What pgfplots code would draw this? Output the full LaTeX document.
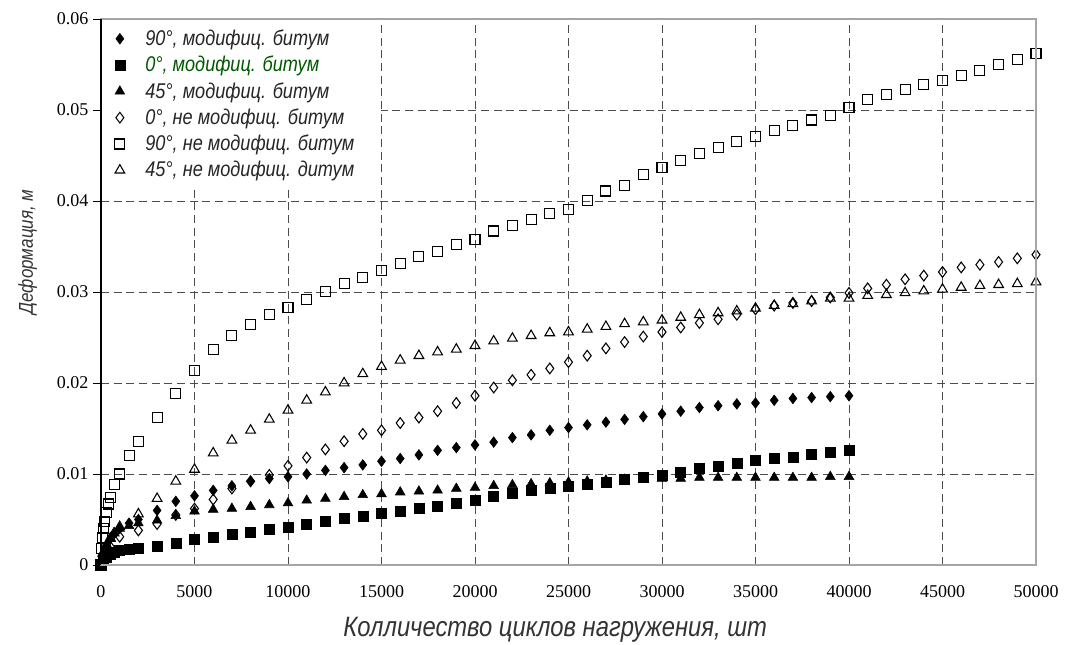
\documentclass[border=0pt]{standalone}
\usepackage{pgfplots}
\pgfplotsset{compat=1.18}
\usepackage{pgfplotstable}
\usepackage{fontspec}
\setmainfont{Liberation Serif}
\newfontfamily\gost[FakeStretch=0.85]{Liberation Sans}

\pgfplotstableread{
x y
0 0
50 0.0018
100 0.0030
150 0.0040
200 0.0048
300 0.0058
400 0.0067
500 0.0074
700 0.0088
1000 0.0100
1500 0.0120
2000 0.0136
3000 0.0162
4000 0.0188
5000 0.0214
6000 0.0237
7000 0.0252
8000 0.0264
9000 0.0275
10000 0.0283
11000 0.0292
12000 0.0301
13000 0.0309
14000 0.0316
15000 0.0324
16000 0.0331
17000 0.0339
18000 0.0345
19000 0.0352
20000 0.0358
21000 0.0367
22000 0.0373
23000 0.0380
24000 0.0386
25000 0.0391
26000 0.0401
27000 0.0411
28000 0.0417
29000 0.0429
30000 0.0437
31000 0.0445
32000 0.0452
33000 0.0459
34000 0.0465
35000 0.0471
36000 0.0477
37000 0.0483
38000 0.0489
39000 0.0494
40000 0.0503
41000 0.0512
42000 0.0517
43000 0.0523
44000 0.0528
45000 0.0532
46000 0.0538
47000 0.0543
48000 0.0550
49000 0.0556
50000 0.0562
}\sqnm

\pgfplotstableread{
x y
0 0
100 0.0008
300 0.0015
500 0.0020
1000 0.0031
2000 0.0038
3000 0.0045
4000 0.0055
5000 0.0062
6000 0.0072
7000 0.0084
8000 0.0092
9000 0.0099
10000 0.0109
11000 0.0118
12000 0.0127
13000 0.0136
14000 0.0144
15000 0.0148
16000 0.0156
17000 0.0162
18000 0.0169
19000 0.0178
20000 0.0186
21000 0.0195
22000 0.0203
23000 0.0209
24000 0.0216
25000 0.0223
26000 0.0230
27000 0.0238
28000 0.0245
29000 0.0251
30000 0.0256
31000 0.0261
32000 0.0266
33000 0.0270
34000 0.0275
35000 0.0281
36000 0.0285
37000 0.0288
38000 0.0290
39000 0.0294
40000 0.0299
41000 0.0304
42000 0.0308
43000 0.0314
44000 0.0318
45000 0.0322
46000 0.0327
47000 0.0330
48000 0.0333
49000 0.0337
50000 0.0341
}\dmnm

\pgfplotstableread{
x y
0 0
100 0.0013
300 0.0022
500 0.0029
700 0.0035
1000 0.0042
2000 0.0056
3000 0.0073
4000 0.0092
5000 0.0105
6000 0.0123
7000 0.0137
8000 0.0148
9000 0.0160
10000 0.0170
11000 0.0181
12000 0.0190
13000 0.0200
14000 0.0210
15000 0.0218
16000 0.0225
17000 0.0230
18000 0.0234
19000 0.0237
20000 0.0241
21000 0.0246
22000 0.0249
23000 0.0252
24000 0.0255
25000 0.0256
26000 0.0259
27000 0.0262
28000 0.0265
29000 0.0267
30000 0.0269
31000 0.0272
32000 0.0275
33000 0.0277
34000 0.0279
35000 0.0282
36000 0.0285
37000 0.0287
38000 0.0290
39000 0.0293
40000 0.0293
41000 0.0296
42000 0.0297
43000 0.0299
44000 0.0301
45000 0.0303
46000 0.0305
47000 0.0307
48000 0.0308
49000 0.0309
50000 0.0311
}\trnm

\pgfplotstableread{
x y
0 0
100 0.0012
300 0.0022
500 0.0029
700 0.0034
1000 0.0040
1500 0.0046
2000 0.0050
3000 0.0060
4000 0.0070
5000 0.0076
6000 0.0082
7000 0.0087
8000 0.0092
9000 0.0095
10000 0.0097
11000 0.0100
12000 0.0104
13000 0.0107
14000 0.0110
15000 0.0114
16000 0.0117
17000 0.0121
18000 0.0126
19000 0.0129
20000 0.0132
21000 0.0135
22000 0.0140
23000 0.0143
24000 0.0148
25000 0.0151
26000 0.0154
27000 0.0157
28000 0.0160
29000 0.0163
30000 0.0166
31000 0.0169
32000 0.0173
33000 0.0175
34000 0.0177
35000 0.0178
36000 0.0181
37000 0.0183
38000 0.0184
39000 0.0185
40000 0.0186
}\dmm

\pgfplotstableread{
x y
0 0
100 0.0005
300 0.0009
500 0.0012
700 0.0014
1000 0.0016
1500 0.0017
2000 0.0018
3000 0.0021
4000 0.0024
5000 0.0028
6000 0.0031
7000 0.0034
8000 0.0036
9000 0.0039
10000 0.0041
11000 0.0045
12000 0.0048
13000 0.0051
14000 0.0054
15000 0.0057
16000 0.0059
17000 0.0062
18000 0.0065
19000 0.0068
20000 0.0071
21000 0.0076
22000 0.0079
23000 0.0082
24000 0.0084
25000 0.0086
26000 0.0089
27000 0.0091
28000 0.0094
29000 0.0096
30000 0.0099
31000 0.0102
32000 0.0106
33000 0.0109
34000 0.0112
35000 0.0115
36000 0.0117
37000 0.0118
38000 0.0122
39000 0.0124
40000 0.0126
}\sqm

\pgfplotstableread{
x y
0 0
100 0.0012
300 0.0022
500 0.0030
700 0.0035
1000 0.0040
1500 0.0043
2000 0.0046
3000 0.0049
4000 0.0054
5000 0.0059
6000 0.0061
7000 0.0062
8000 0.0064
9000 0.0066
10000 0.0068
11000 0.0071
12000 0.0073
13000 0.0075
14000 0.0077
15000 0.0078
16000 0.0080
17000 0.0081
18000 0.0082
19000 0.0084
20000 0.0085
21000 0.0087
22000 0.0088
23000 0.0089
24000 0.0090
25000 0.0091
26000 0.0092
27000 0.0093
28000 0.0094
29000 0.0095
30000 0.0095
31000 0.0095
32000 0.0096
33000 0.0096
34000 0.0096
35000 0.0096
36000 0.0096
37000 0.0096
38000 0.0096
39000 0.0097
40000 0.0097
}\trm

\begin{document}
\begin{tikzpicture}
\useasboundingbox (-75.75pt,-60pt) rectangle (727.5pt,423.75pt);
\begin{axis}[
  name=ax,
  scale only axis,
  width=701.25pt, height=409.5pt,
  xmin=0, xmax=50000, ymin=0, ymax=0.06,
  xtick={0,5000,...,50000},
  ytick={0,0.01,...,0.06},
  scaled x ticks=false, scaled y ticks=false,
  /pgf/number format/assume math mode=true,
  xticklabel style={/pgf/number format/set thousands separator={}, /pgf/number format/fixed, font=\fontsize{13.5}{15}\selectfont, yshift=-12pt},
  yticklabel style={/pgf/number format/fixed, /pgf/number format/precision=2, font=\fontsize{13.5}{15}\selectfont},
  xtick style={draw=none},
  ytick pos=left,
  ytick align=outside,
  major tick length=6pt,
  ytick style={black, line width=0.6pt},
  grid=major,
  major grid style={black!70, dash pattern=on 6pt off 3.5pt, line width=0.7pt},
  axis line style={draw=none},
  xlabel={Колличество циклов нагружения, шт},
  ylabel={Деформация, м},
  xlabel style={font=\gost\itshape\fontsize{21}{24}\selectfont, text=black!80, yshift=-8pt, xshift=-10pt},
  ylabel style={font=\gost\itshape\fontsize{15}{18}\selectfont, text=black!80, xshift=30pt, yshift=8pt},
  legend style={at={(0,1)}, anchor=north west, draw=none, fill=white,
    font=\gost\itshape\fontsize{16}{18}\selectfont, text=black!85,
    inner xsep=4pt, inner ysep=6pt, row sep=2.5pt},
  legend image code/.code={%
    \path[draw=none, fill=none] (0cm,0cm) -- (0.95cm,0cm);
    \draw[#1, only marks] plot coordinates {(0.35cm,0cm)};},
  legend cell align=left,
  clip=false,
]
\addplot[only marks, mark=diamond*, mark size=4pt, black] table {\dmm};
\addlegendentry{90°, модифиц. битум}
\addplot[only marks, mark=square*, mark size=3.75pt, black] table {\sqm};
\addlegendentry{\textcolor{green!35!black}{0°, модифиц. битум}}
\addplot[only marks, mark=triangle*, mark size=4.2pt, black] table {\trm};
\addlegendentry{45°, модифиц. битум}
\addplot[only marks, mark=diamond, mark size=4pt, black, mark options={line width=0.8pt, fill=white}] table {\dmnm};
\addlegendentry{0°, не модифиц. битум}
\addplot[only marks, mark=square, mark size=3.75pt, black, mark options={line width=0.8pt, fill=white}] table {\sqnm};
\addlegendentry{90°, не модифиц. битум\hspace*{14pt}}
\addplot[only marks, mark=triangle, mark size=4.2pt, black, mark options={line width=0.8pt, fill=white}] table {\trnm};
\addlegendentry{45°, не модифиц. дитум}
\end{axis}
\draw[gray!70, line width=0.8pt] (ax.south west) rectangle (ax.north east);
\draw[black, line width=0.8pt] (ax.south west) -- (ax.north west);
\draw[gray!70, line width=1.6pt] (ax.south west) -- (ax.south east);
\end{tikzpicture}
\end{document}
